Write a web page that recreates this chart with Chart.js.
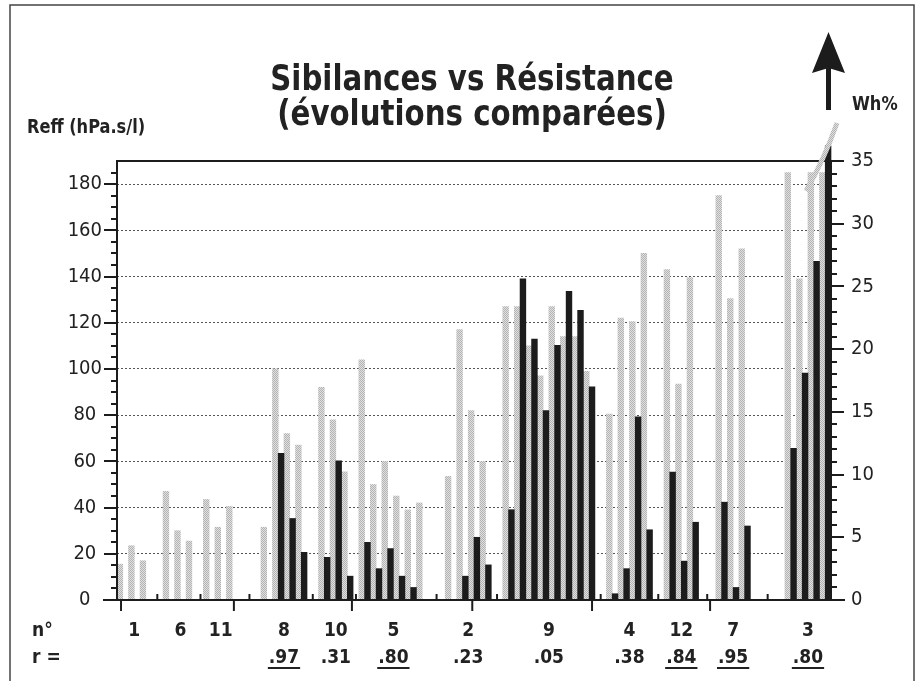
<!DOCTYPE html>
<html>
<head>
<meta charset="utf-8">
<script src="https://cdn.jsdelivr.net/npm/chart.js@4.4.1/dist/chart.umd.min.js"></script>
<style>
html,body{margin:0;padding:0;background:#fff;}
canvas{display:block;}
</style>
</head>
<body>
<canvas id="c" width="921" height="681"></canvas>
<script>
// ---------------- DATA ----------------
const patients   = ['1', '6', '11', '8', '10', '5', '2', '9', '4', '12', '7', '3'];
const rValues    = ['', '', '', '.97', '.31', '.80', '.23', '.05', '.38', '.84', '.95', '.80'];
const rUnderline = [false, false, false, true, false, true, false, false, false, true, true, true];

// Reff (hPa.s/l), left axis — one value per measurement
const reff_1  = [15.5, 23.5, 17];
const reff_6  = [47, 30, 25.5];
const reff_11 = [43.5, 31.5, 40.5];
const reff_8  = [31.5, 100, 72, 67];
const reff_10 = [92, 78, 55.5];
const reff_5  = [104, 50, 60, 45, 39, 42];
const reff_2  = [53.5, 117, 82, 60];
const reff_9  = [127, 127, 110, 97, 127, 114, 114, 99];
const reff_4  = [80.5, 122, 120.5, 150];
const reff_12 = [143, 93.5, 139.5];
const reff_7  = [175, 130.5, 152];
const reff_3  = [185, 139, 185, 185];

// Wh% (right axis) — one value per measurement
const wh_1  = [0, 0, 0];
const wh_6  = [0, 0, 0];
const wh_11 = [0, 0, 0];
const wh_8  = [0, 11.7, 6.5, 3.8];
const wh_10 = [3.4, 11.1, 1.9];
const wh_5  = [4.6, 2.5, 4.1, 1.9, 1.0, 0];
const wh_2  = [0, 1.9, 5.0, 2.8];
const wh_9  = [7.2, 25.6, 20.8, 15.1, 20.3, 24.6, 23.1, 17.0];
const wh_4  = [0.5, 2.5, 14.6, 5.6];
const wh_12 = [10.2, 3.1, 6.2];
const wh_7  = [7.8, 1.0, 5.9];
const wh_3  = [12.1, 18.1, 27.0, 36.2];

// tick labels
const reffTickValues = [0, 20, 40, 60, 80, 100, 120, 140, 160, 180];
const whTickValues   = [0, 5, 10, 15, 20, 25, 30, 35];
const reffAxisMax = 190;
const whAxisMax = 35;

// ---------------- LAYOUT ----------------
const gapSlots = [2, 1, 4, 2, 1, 3, 2, 2, 2, 3, 6];           // empty slots between patient groups
const xMajorTickSlots = [0.2, 19.8, 40.3, 61.2, 82, 102.5];     // decorative x ticks
const FONT = '"Liberation Sans Narrow", "DejaVu Sans Condensed", "Arial Narrow", sans-serif';

const reffGroups = [reff_1, reff_6, reff_11, reff_8, reff_10, reff_5, reff_2, reff_9, reff_4, reff_12, reff_7, reff_3];
const whGroups   = [wh_1, wh_6, wh_11, wh_8, wh_10, wh_5, wh_2, wh_9, wh_4, wh_12, wh_7, wh_3];

const slotLabels = [], reffSlots = [], whSlots = [], groupRanges = [], gapCenters = [];
let idx = 0;
patients.forEach((p, g) => {
  const start = idx;
  reffGroups[g].forEach((v, i) => {
    slotLabels.push(p + '.' + (i + 1) + ' Reff'); reffSlots.push(v); whSlots.push(null); idx++;
    slotLabels.push(p + '.' + (i + 1) + ' Wh');   reffSlots.push(null); whSlots.push(whGroups[g][i]); idx++;
  });
  groupRanges.push([start, idx - 1]);
  if (g < gapSlots.length) {
    const gs = gapSlots[g];
    gapCenters.push(idx + (gs - 1) / 2);
    for (let k = 0; k < gs; k++) { slotLabels.push(''); reffSlots.push(null); whSlots.push(null); idx++; }
  }
});

const canvas = document.getElementById('c');
const ctx = canvas.getContext('2d');

// stippled grey pattern
const pc = document.createElement('canvas');
pc.width = 2; pc.height = 2;
const px = pc.getContext('2d');
px.fillStyle = '#e0e0e0'; px.fillRect(0, 0, 2, 2);
px.fillStyle = '#b3b3b3'; px.fillRect(0, 0, 1, 1); px.fillRect(1, 1, 1, 1);
const greyPattern = ctx.createPattern(pc, 'repeat');

const INK = '#1c1c1c';

function txt(c, s, x, y, align, font, sx) {
  c.save();
  c.font = font;
  c.translate(x, y);
  c.scale(sx, 1);
  c.textAlign = align;
  c.fillText(s, 0, 0);
  const w = c.measureText(s).width * sx;
  c.restore();
  return w;
}

const decor = {
  id: 'decor',
  beforeDraw(chart) {
    const c = chart.ctx;
    c.save();
    c.strokeStyle = '#444'; c.lineWidth = 1.5;
    c.beginPath();
    c.moveTo(10, 681); c.lineTo(10, 5); c.lineTo(914, 5); c.lineTo(914, 681);
    c.stroke();
    c.restore();
  },
  afterDatasetsDraw(chart) {
    const c = chart.ctx, a = chart.chartArea;
    const y = chart.scales.y, y1 = chart.scales.y1, x = chart.scales.x;
    c.save();
    c.strokeStyle = INK; c.lineWidth = 2; c.lineCap = 'butt';
    c.beginPath();
    c.moveTo(a.left, a.bottom); c.lineTo(a.left, a.top); c.lineTo(a.right, a.top); c.lineTo(a.right, a.bottom);
    c.stroke();
    c.beginPath(); c.moveTo(a.left - 14, a.bottom); c.lineTo(a.right + 14, a.bottom); c.stroke();
    for (let v = 5; v <= 185; v += 5) {
      const py = Math.round(y.getPixelForValue(v));
      const len = v % 20 === 0 ? 13 : 6;
      c.beginPath(); c.moveTo(a.left - len, py); c.lineTo(a.left, py); c.stroke();
    }
    for (let v = 1; v <= whAxisMax; v += 1) {
      const py = Math.round(y1.getPixelForValue(v));
      const len = v % 5 === 0 ? 13 : 6;
      c.beginPath(); c.moveTo(a.right, py); c.lineTo(a.right + len, py); c.stroke();
    }
    xMajorTickSlots.forEach(s => {
      const pxx = x.getPixelForValue(s);
      c.beginPath(); c.moveTo(pxx, a.bottom); c.lineTo(pxx, a.bottom + 11); c.stroke();
    });
    gapCenters.forEach(s => {
      const pxx = x.getPixelForValue(s);
      c.beginPath(); c.moveTo(pxx, a.bottom); c.lineTo(pxx, a.bottom - 6); c.stroke();
    });
    // off-scale grey stroke
    c.strokeStyle = greyPattern; c.lineWidth = 5;
    c.beginPath(); c.moveTo(806, 191); c.quadraticCurveTo(824, 160, 837, 123); c.stroke();
    c.restore();
  },
  afterDraw(chart) {
    const c = chart.ctx, x = chart.scales.x;
    c.save();
    c.fillStyle = '#222';
    c.textBaseline = 'alphabetic';
    txt(c, 'Sibilances vs Résistance', 472, 90, 'center', 'bold 35px ' + FONT, 0.93);
    txt(c, '(évolutions comparées)', 472, 125, 'center', 'bold 35px ' + FONT, 0.93);
    txt(c, 'Reff (hPa.s/l)', 27, 133, 'left', 'bold 20px ' + FONT, 0.9);
    txt(c, 'Wh%', 852, 110, 'left', 'bold 20px ' + FONT, 0.9);
    // arrow
    c.fillStyle = INK;
    c.fillRect(826, 68, 5, 42);
    c.beginPath(); c.moveTo(828.5, 32); c.lineTo(845, 73); c.lineTo(828.5, 68); c.lineTo(812, 73); c.closePath(); c.fill();
    // bottom labels
    c.fillStyle = '#222';
    const bf = 'bold 20px ' + FONT;
    txt(c, 'n°', 32, 636, 'left', bf, 0.95);
    txt(c, 'r =', 32, 663, 'left', bf, 0.95);
    patients.forEach((p, g) => {
      const [s, e] = groupRanges[g];
      const cx = (x.getPixelForValue(s) + x.getPixelForValue(e)) / 2;
      txt(c, p, cx, 636, 'center', bf, 0.95);
      if (rValues[g]) {
        const w = txt(c, rValues[g], cx, 663, 'center', bf, 0.95);
        if (rUnderline[g]) c.fillRect(cx - w / 2 - 1, 667, w + 2, 2);
      }
    });
    c.restore();
  }
};

new Chart(ctx, {
  type: 'bar',
  data: {
    labels: slotLabels,
    datasets: [
      { label: 'Reff (hPa.s/l)', data: reffSlots, yAxisID: 'y', backgroundColor: greyPattern,
        grouped: false, barPercentage: 1, categoryPercentage: 1, borderWidth: 0, order: 2 },
      { label: 'Wh%', data: whSlots, yAxisID: 'y1', backgroundColor: INK,
        grouped: false, barPercentage: 1, categoryPercentage: 1, borderWidth: 0, clip: false, order: 1 }
    ]
  },
  options: {
    responsive: false,
    animation: false,
    devicePixelRatio: 1,
    layout: { padding: { top: 161, bottom: 81, left: 0, right: 0 } },
    plugins: { legend: { display: false }, tooltip: { enabled: false }, title: { display: false } },
    scales: {
      x: { display: false, offset: true },
      y: {
        position: 'left', min: 0, max: reffAxisMax,
        afterBuildTicks: s => { s.ticks = reffTickValues.map(v => ({ value: v })); },
        afterFit: s => { s.width = 117; },
        ticks: { padding: 15, crossAlign: 'center', color: '#222', font: { family: FONT, size: 20 } },
        grid: { drawTicks: false, color: '#555', lineWidth: 1 },
        border: { display: false, dash: [2, 2] }
      },
      y1: {
        position: 'right', min: 0, max: whAxisMax,
        afterBuildTicks: s => { s.ticks = whTickValues.map(v => ({ value: v })); },
        afterFit: s => { s.width = 90; },
        ticks: { padding: 20, crossAlign: 'near', color: '#222', font: { family: FONT, size: 20 } },
        grid: { drawOnChartArea: false, drawTicks: false },
        border: { display: false }
      }
    }
  },
  plugins: [decor]
});
</script>
</body>
</html>
